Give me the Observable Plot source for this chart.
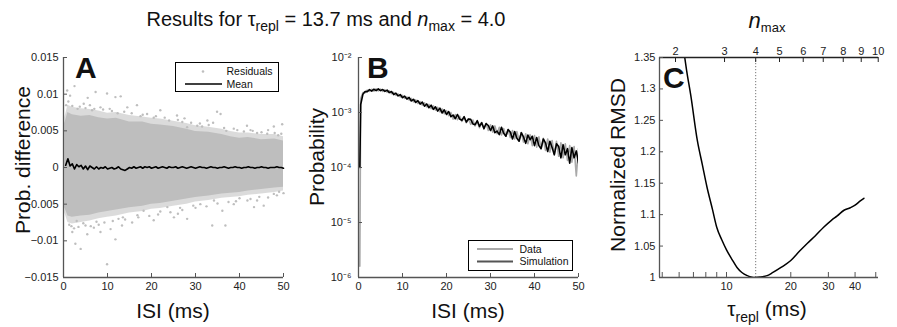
<!DOCTYPE html>
<html><head><meta charset="utf-8">
<script src="https://cdn.jsdelivr.net/npm/d3@7"></script>
<script src="https://cdn.jsdelivr.net/npm/@observablehq/plot@0.6"></script>
<style>
body{margin:0;background:#fff;}
#wrap{position:relative;width:897px;height:327px;overflow:hidden;background:#fff;}
.pan{position:absolute;top:0;}
</style></head><body><div id="wrap"></div>
<script>
// ---------- Panel A data ----------
const isi = [0.5,1,1.5,2,2.5,3,3.5,4,4.5,5,5.5,6,6.5,7,7.5,8,8.5,9,9.5,10,
10.5,11,11.5,12,12.5,13,13.5,14,14.5,15,15.5,16,16.5,17,17.5,18,18.5,19,19.5,20,
20.5,21,21.5,22,22.5,23,23.5,24,24.5,25,25.5,26,26.5,27,27.5,28,28.5,29,29.5,30,
30.5,31,31.5,32,32.5,33,33.5,34,34.5,35,35.5,36,36.5,37,37.5,38,38.5,39,39.5,40,
40.5,41,41.5,42,42.5,43,43.5,44,44.5,45,45.5,46,46.5,47,47.5,48,48.5,49,49.5,50];
const meanDiff = [0.0003,0.0012,0.0002,0.0005,-0.0002,0.0004,0.0001,0.0003,-0.0002,0.0002,
-0.0003,0.0002,0.0000,-0.0002,0.0001,-0.0002,0.0000,-0.0001,0.0001,-0.0002,
-0.0001,0.0000,-0.0002,-0.0001,0.0001,-0.0002,-0.0003,-0.0004,-0.0002,0.0000,
-0.0001,0.0001,-0.0001,0.0000,0.0001,-0.0001,0.0001,0.0000,0.0001,-0.0001,
0.0000,0.0001,-0.0001,0.0000,0.0001,0.0000,-0.0001,0.0001,0.0000,0.0000,
0.0001,-0.0001,0.0000,0.0001,0.0000,-0.0001,0.0000,0.0001,0.0000,-0.0001,
0.0000,0.0001,0.0000,0.0000,-0.0001,0.0000,0.0001,0.0000,0.0000,-0.0001,
0.0000,0.0000,0.0001,0.0000,-0.0001,0.0000,0.0000,0.0001,0.0000,0.0000,
-0.0001,0.0000,0.0000,0.0001,0.0000,0.0000,-0.0001,0.0000,0.0000,0.0001,
0.0000,0.0000,-0.0001,0.0000,0.0000,0.0000,0.0001,0.0000,0.0000,-0.0001];
// dense residual cloud: core edges and sparser fringe edges
const envX  = [0.3,1,2,4,6,8,10,12,15,18,20,22,25,28,30,33,36,38,40,42,45,48,50];
const envHi = [0.0060,0.0075,0.0072,0.0070,0.0071,0.0068,0.0066,0.0067,0.0062,0.0062,0.0059,0.0058,0.0056,0.0052,0.0049,0.0048,0.0045,0.0042,0.0040,0.0041,0.0038,0.0039,0.0036];
const envLo = [-0.0055,-0.0066,-0.0068,-0.0066,-0.0065,-0.0062,-0.0060,-0.0058,-0.0055,-0.0053,-0.0050,-0.0049,-0.0046,-0.0043,-0.0041,-0.0039,-0.0036,-0.0035,-0.0034,-0.0032,-0.0030,-0.0028,-0.0027];
const fringeHi = [0.0068,0.0085,0.0082,0.0080,0.0079,0.0077,0.0074,0.0075,0.0071,0.0069,0.0067,0.0066,0.0063,0.0060,0.0057,0.0055,0.0052,0.0049,0.0047,0.0047,0.0045,0.0045,0.0042];
const fringeLo = [-0.0062,-0.0075,-0.0077,-0.0075,-0.0073,-0.0070,-0.0068,-0.0066,-0.0062,-0.0060,-0.0057,-0.0056,-0.0053,-0.0050,-0.0047,-0.0045,-0.0042,-0.0041,-0.0040,-0.0038,-0.0036,-0.0034,-0.0032];
// scattered residuals outside the dense cloud
const outX = [0.84,2.5,1.5,7.3,9.9,11.8,13.0,5.5,14.5,22,34.9,35.7,25.8,32.7,41.7,47.8,49.7,42.5,38.7,28.1,16.7,19,8.4,4.6,30.4,46.3,3.2,6.5,11,17.5,20.5,24,27,31.5,37,44,48.8,12.3,1.1,0.6,
2,3.7,5,6,7,9,10.5,13.8,15.5,18,21,23,26,29,33,34,36.5,39.5,41,43,45,46.5,48,49.5,27.5,31,
9.9,3.9,2.7,11.8,2.0,5.4,8.4,6.9,10.7,13.3,15.6,20.5,25.1,28.1,33.8,36.8,36.1,38.7,43.3,45.5,41.8,23.6,31.1,34.2,47.8,18.2,1.3,4.5,7.5,12.5,16.8,22,26.5,29.5,40,44.5,49,3.0,
1.8,2.4,3.4,5,6.2,8,9.3,11.2,14,17,19.5,21.5,24.3,27,30,32.5,35,37.5,39.2,42.5,44,46.5,48.5,50,26,13.5];
const outY = [0.0105,0.0111,0.0098,0.0103,0.0101,0.0096,0.0097,0.0095,0.0082,0.0078,0.0076,0.0073,0.0071,0.0064,0.0057,0.0056,0.0059,0.0051,0.0053,0.0055,0.0085,0.0073,0.0082,0.0087,0.0057,0.0046,0.0080,0.0078,0.0077,0.0070,0.0068,0.0064,0.0062,0.0056,0.0050,0.0047,0.0044,0.0074,0.0090,0.0085,
0.0084,0.0083,0.0081,0.0085,0.0080,0.0079,0.0080,0.0076,0.0074,0.0072,0.0070,0.0068,0.0065,0.0061,0.0058,0.0061,0.0054,0.0051,0.0049,0.0050,0.0048,0.0051,0.0047,0.0046,0.0067,0.0060,
-0.0132,-0.0111,-0.0104,-0.0098,-0.0088,-0.0091,-0.0088,-0.0082,-0.0084,-0.0079,-0.0075,-0.0072,-0.0068,-0.0070,-0.0079,-0.0079,-0.0059,-0.0050,-0.0054,-0.0052,-0.0045,-0.0054,-0.0050,-0.0045,-0.0036,-0.0059,-0.0078,-0.0076,-0.0074,-0.0070,-0.0065,-0.0060,-0.0055,-0.0052,-0.0042,-0.0040,-0.0033,-0.0073,
-0.0080,-0.0083,-0.0081,-0.0079,-0.0080,-0.0078,-0.0075,-0.0073,-0.0071,-0.0068,-0.0066,-0.0064,-0.0061,-0.0058,-0.0055,-0.0053,-0.0049,-0.0047,-0.0046,-0.0043,-0.0045,-0.0041,-0.0038,-0.0035,-0.0063,-0.0068];
const isiTicks = [0,10,20,30,40,50];
const diffTicks = [-0.015,-0.01,-0.005,0,0.005,0.01,0.015];

// ---------- Panel B data ----------
const isiB = [0.3].concat(isi);
const pData = [1.6e-6,
1.8e-3,2.3e-3,2.3e-3,2.55e-3,2.42e-3,2.65e-3,2.45e-3,2.7e-3,2.48e-3,2.66e-3,
2.42e-3,2.6e-3,2.35e-3,2.48e-3,2.2e-3,2.32e-3,2.05e-3,2.18e-3,1.92e-3,2.05e-3,
1.8e-3,1.92e-3,1.68e-3,1.8e-3,1.56e-3,1.7e-3,1.46e-3,1.58e-3,1.36e-3,1.5e-3,
1.26e-3,1.4e-3,1.18e-3,1.32e-3,1.1e-3,1.24e-3,1.02e-3,1.16e-3,9.5e-4,1.08e-3,
8.8e-4,1.0e-3,7.6e-4,9.2e-4,7.4e-4,8.6e-4,6.9e-4,8.1e-4,6.5e-4,7.7e-4,
6.1e-4,7.3e-4,5.7e-4,6.9e-4,5.3e-4,6.6e-4,5.0e-4,6.3e-4,4.7e-4,6.0e-4,
4.4e-4,5.7e-4,4.1e-4,5.4e-4,3.9e-4,5.1e-4,3.7e-4,4.9e-4,3.5e-4,4.7e-4,
3.3e-4,4.5e-4,3.1e-4,4.3e-4,2.9e-4,4.1e-4,2.7e-4,3.95e-4,2.5e-4,3.8e-4,
2.35e-4,3.6e-4,2.2e-4,3.4e-4,2.05e-4,3.3e-4,1.9e-4,3.1e-4,1.75e-4,3.0e-4,
1.6e-4,2.8e-4,1.5e-4,2.7e-4,1.35e-4,2.5e-4,1.25e-4,2.4e-4,7e-5,2.2e-4];
const pSim = [1.0e-4,
1.4e-3,2.15e-3,2.4e-3,2.4e-3,2.6e-3,2.45e-3,2.65e-3,2.5e-3,2.7e-3,2.5e-3,
2.62e-3,2.42e-3,2.55e-3,2.3e-3,2.4e-3,2.12e-3,2.25e-3,2.0e-3,2.12e-3,1.86e-3,
1.98e-3,1.75e-3,1.88e-3,1.62e-3,1.74e-3,1.52e-3,1.64e-3,1.42e-3,1.55e-3,1.3e-3,
1.43e-3,1.22e-3,1.36e-3,1.14e-3,1.27e-3,1.06e-3,1.2e-3,9.8e-4,1.12e-3,9.2e-4,
1.04e-3,8.4e-4,9.0e-4,7.7e-4,9.2e-4,7.6e-4,7.2e-4,8.4e-4,6.7e-4,7.6e-4,
7.5e-4,6.2e-4,6.0e-4,7.1e-4,5.6e-4,6.5e-4,5.1e-4,6.3e-4,5.8e-4,4.7e-4,
5.7e-4,4.3e-4,4.6e-4,3.95e-4,5.4e-4,4.2e-4,3.7e-4,4.9e-4,4.4e-4,3.3e-4,
4.5e-4,3.4e-4,3.0e-4,4.3e-4,3.6e-4,2.75e-4,3.9e-4,3.2e-4,3.7e-4,2.5e-4,
3.5e-4,2.5e-4,2.2e-4,3.3e-4,2.8e-4,1.95e-4,3.0e-4,2.3e-4,1.7e-4,2.7e-4,
2.4e-4,1.5e-4,2.6e-4,1.7e-4,2.2e-4,1.2e-4,2.3e-4,1.5e-4,2.0e-4,1.2e-4];
const probTicks = [1e-6,1e-5,1e-4,1e-3,1e-2];

// ---------- Panel C data ----------
const tauRepl = [6.3,6.5,6.8,7.3,7.7,8.1,8.6,9.0,9.5,10.0,10.6,11.2,11.8,12.5,13.0,13.7,14.5,15.5,16.5,18.0,20.0,22.0,24.0,26.0,28.5,31.0,33.0,35.5,38.0,40.0,42.0,44.0];
const rmsd    = [1.362,1.33,1.29,1.218,1.18,1.144,1.108,1.080,1.060,1.044,1.029,1.016,1.008,1.003,1.001,1.000,1.001,1.003,1.008,1.016,1.027,1.042,1.055,1.066,1.080,1.091,1.098,1.107,1.111,1.115,1.121,1.126];
const tauTicks = [10,20,30,40];
const tauMinor = [5,6,7,8,9,50];
const nmaxTicks = [2,3,4,5,6,7,8,9,10];
const tauAtNmax = [5.77,9.79,13.7,17.71,22.87,28.38,35.21,42.75,51.35];
const tauBest = 13.7;
const rmsdTicks = [1,1.05,1.1,1.15,1.2,1.25,1.3,1.35];

// ---------- common ----------
const FONT = "'Liberation Sans', Arial, Helvetica, sans-serif";
const AX = "#555";
const TXT = "#222";
const GREY = "#bebebe";
const style = {fontFamily: FONT, fontSize: "11px", background: "transparent", overflow: "visible", color: TXT};
const wrap = document.getElementById("wrap");
function place(svg, left) {
  const d = document.createElement("div");
  d.className = "pan"; d.style.left = left + "px";
  d.appendChild(svg); wrap.appendChild(d);
}
const SUP = {"-":"\u207B","0":"\u2070","1":"\u00B9","2":"\u00B2","3":"\u00B3","4":"\u2074","5":"\u2075","6":"\u2076"};
const minus = d => d === 0 ? "0" : (d < 0 ? "\u2212" : "") + String(Math.abs(d));

// ---------- Panel A ----------
const env = envX.map((x, i) => ({x, hi: envHi[i], lo: envLo[i], fhi: fringeHi[i], flo: fringeLo[i]}));
const outl = outX.map((x, i) => ({x, y: outY[i]}));
const meanRows = isi.map((x, i) => ({x, y: meanDiff[i]}));
const A = Plot.plot({
  width: 290, height: 327, marginLeft: 63, marginRight: 7, marginTop: 57, marginBottom: 50,
  style,
  x: {domain: [0, 50]},
  y: {domain: [-0.015, 0.015]},
  marks: [
    Plot.areaY(env, {x: "x", y1: "flo", y2: "fhi", fill: GREY, fillOpacity: 0.55}),
    Plot.areaY(env, {x: "x", y1: "lo", y2: "hi", fill: GREY}),
    Plot.dot(outl, {x: "x", y: "y", r: 1.2, fill: GREY, stroke: "none"}),
    Plot.line(meanRows, {x: "x", y: "y", stroke: "#000", strokeWidth: 1.6}),
    Plot.ruleX([0], {stroke: AX, strokeWidth: 1.3}),
    Plot.ruleY([-0.015], {stroke: AX, strokeWidth: 1.3}),
    Plot.tickX(isiTicks, {x: d => d, insetTop: 216, stroke: AX}),
    Plot.tickY(diffTicks, {y: d => d, insetRight: 216, stroke: AX}),
    Plot.axisX({ticks: isiTicks, tickSize: 0, tickPadding: 5, label: null, fill: TXT}),
    Plot.axisY({ticks: diffTicks, tickSize: 0, tickPadding: 5, label: null, fill: TXT, tickFormat: minus})
  ]
});
place(A, 0);

// ---------- Panel B ----------
const rowsB = isiB.map((x, i) => ({x, data: pData[i], sim: pSim[i]}));
const B = Plot.plot({
  width: 300, height: 327, marginLeft: 68, marginRight: 12, marginTop: 57, marginBottom: 50,
  style,
  x: {domain: [0, 50]},
  y: {type: "log", domain: [1e-6, 1e-2]},
  marks: [
    Plot.line(rowsB, {x: "x", y: "data", stroke: "#a9a9a9", strokeWidth: 1.6, clip: true}),
    Plot.line(rowsB, {x: "x", y: "sim", stroke: "#000", strokeWidth: 1.6, clip: true}),
    Plot.ruleX([0], {stroke: AX, strokeWidth: 1.3}),
    Plot.ruleY([1e-6], {stroke: AX, strokeWidth: 1.3}),
    Plot.tickX(isiTicks, {x: d => d, insetTop: 216, stroke: AX}),
    Plot.tickY(probTicks, {y: d => d, insetRight: 216, stroke: AX}),
    Plot.axisX({ticks: isiTicks, tickSize: 0, tickPadding: 5, label: null, fill: TXT}),
    Plot.axisY({ticks: probTicks, tickSize: 0, tickPadding: 7, label: null, fill: TXT, fontSize: 11,
      tickFormat: d => "10" + String(Math.round(Math.log10(d))).split("").map(c => SUP[c]).join("")})
  ]
});
place(B, 290);

// ---------- Panel C ----------
const rowsC = tauRepl.map((x, i) => ({x, y: rmsd[i]}));
const nOf = new Map(tauAtNmax.map((t, i) => [t, nmaxTicks[i]]));
const C = Plot.plot({
  width: 307, height: 327, marginLeft: 69, marginRight: 19, marginTop: 57, marginBottom: 50,
  style,
  x: {type: "log", domain: [4.855, 51.5]},
  y: {domain: [1, 1.35]},
  marks: [
    Plot.ruleX([tauBest], {stroke: "#777", strokeWidth: 1, strokeDasharray: "1.2,1.8"}),
    Plot.line(rowsC, {x: "x", y: "y", stroke: "#000", strokeWidth: 1.5, curve: "monotone-x", clip: true}),
    Plot.ruleX([4.855], {stroke: AX, strokeWidth: 1.3}),
    Plot.ruleY([1], {stroke: AX, strokeWidth: 1.3}),
    Plot.ruleY([1.35], {stroke: "#222", strokeWidth: 1.3}),
    Plot.tickX(tauTicks.concat(tauMinor), {x: d => d, insetTop: 215, stroke: AX}),
    Plot.tickX(tauAtNmax, {x: d => d, insetBottom: 215, stroke: "#222"}),
    Plot.tickY(rmsdTicks, {y: d => d, insetRight: 215, stroke: AX}),
    Plot.axisX({ticks: tauTicks, tickSize: 0, tickPadding: 5, label: null, fill: TXT}),
    Plot.axisX({anchor: "top", ticks: tauAtNmax, tickSize: 0, tickPadding: 3, label: null, fill: TXT, tickFormat: d => String(nOf.get(d))}),
    Plot.axisY({ticks: rmsdTicks, tickSize: 0, tickPadding: 4, label: null, fill: TXT, tickFormat: d => String(d)})
  ]
});
place(C, 590);

// ---------- overlay: titles, labels, legends ----------
const ov = d3.select(wrap).append("svg")
  .attr("width", 897).attr("height", 327)
  .style("position", "absolute").style("left", 0).style("top", 0)
  .style("font-family", FONT).style("white-space", "pre");

const title = ov.append("text").attr("x", 326).attr("y", 26).attr("text-anchor", "middle").attr("font-size", 20).attr("fill", "#111");
title.append("tspan").text("Results for \u03C4");
title.append("tspan").attr("font-size", 14).attr("dy", 5).text("repl");
title.append("tspan").attr("dy", -5).text(" = 13.7 ms and ");
title.append("tspan").attr("font-style", "italic").text("n");
title.append("tspan").attr("font-size", 14).attr("dy", 5).text("max");
title.append("tspan").attr("dy", -5).text(" = 4.0");

function rot(text, x, y) {
  ov.append("text").attr("transform", `translate(${x},${y}) rotate(-90)`).attr("text-anchor", "middle")
    .attr("font-size", 21).attr("fill", "#111").text(text);
}
rot("Prob. difference", 30, 160);
rot("Probability", 324, 157);
rot("Normalized RMSD", 625, 165);

ov.append("text").attr("x", 173).attr("y", 318).attr("text-anchor", "middle").attr("font-size", 21).attr("fill", "#111").text("ISI (ms)");
ov.append("text").attr("x", 468).attr("y", 318).attr("text-anchor", "middle").attr("font-size", 21).attr("fill", "#111").text("ISI (ms)");
const tl = ov.append("text").attr("x", 767).attr("y", 316).attr("text-anchor", "middle").attr("font-size", 21).attr("fill", "#111");
tl.append("tspan").text("\u03C4");
tl.append("tspan").attr("font-size", 14).attr("dy", 6).text("repl");
tl.append("tspan").attr("dy", -6).text(" (ms)");
const nl = ov.append("text").attr("x", 767).attr("y", 28).attr("text-anchor", "middle").attr("font-size", 22).attr("fill", "#111");
nl.append("tspan").attr("font-style", "italic").text("n");
nl.append("tspan").attr("font-size", 13).attr("dy", 4).text("max");

for (const [t, x, y] of [["A", 75, 78], ["B", 367, 78], ["C", 663, 88]]) {
  ov.append("text").attr("x", x).attr("y", y).attr("font-size", 30).attr("font-weight", "bold").attr("fill", "#111").text(t);
}

// legend A
ov.append("rect").attr("x", 175.5).attr("y", 62.5).attr("width", 103).attr("height", 29).attr("fill", "#fff").attr("stroke", "#000");
ov.append("circle").attr("cx", 203).attr("cy", 71.5).attr("r", 1.3).attr("fill", GREY);
ov.append("text").attr("x", 226.5).attr("y", 75).attr("font-size", 10.5).attr("fill", "#111").text("Residuals");
ov.append("line").attr("x1", 185).attr("x2", 222).attr("y1", 84).attr("y2", 84).attr("stroke", "#000").attr("stroke-width", 1.3);
ov.append("text").attr("x", 226.5).attr("y", 87.5).attr("font-size", 10.5).attr("fill", "#111").text("Mean");
// legend B
ov.append("rect").attr("x", 468.5).attr("y", 240.5).attr("width", 104).attr("height", 30).attr("fill", "#fff").attr("stroke", "#000");
ov.append("line").attr("x1", 477).attr("x2", 513).attr("y1", 249).attr("y2", 249).attr("stroke", "#a9a9a9").attr("stroke-width", 2);
ov.append("text").attr("x", 519.5).attr("y", 252.5).attr("font-size", 10.5).attr("fill", "#111").text("Data");
ov.append("line").attr("x1", 477).attr("x2", 513).attr("y1", 261.5).attr("y2", 261.5).attr("stroke", "#555").attr("stroke-width", 2);
ov.append("text").attr("x", 519.5).attr("y", 265).attr("font-size", 10.5).attr("fill", "#111").text("Simulation");
</script></body></html>
